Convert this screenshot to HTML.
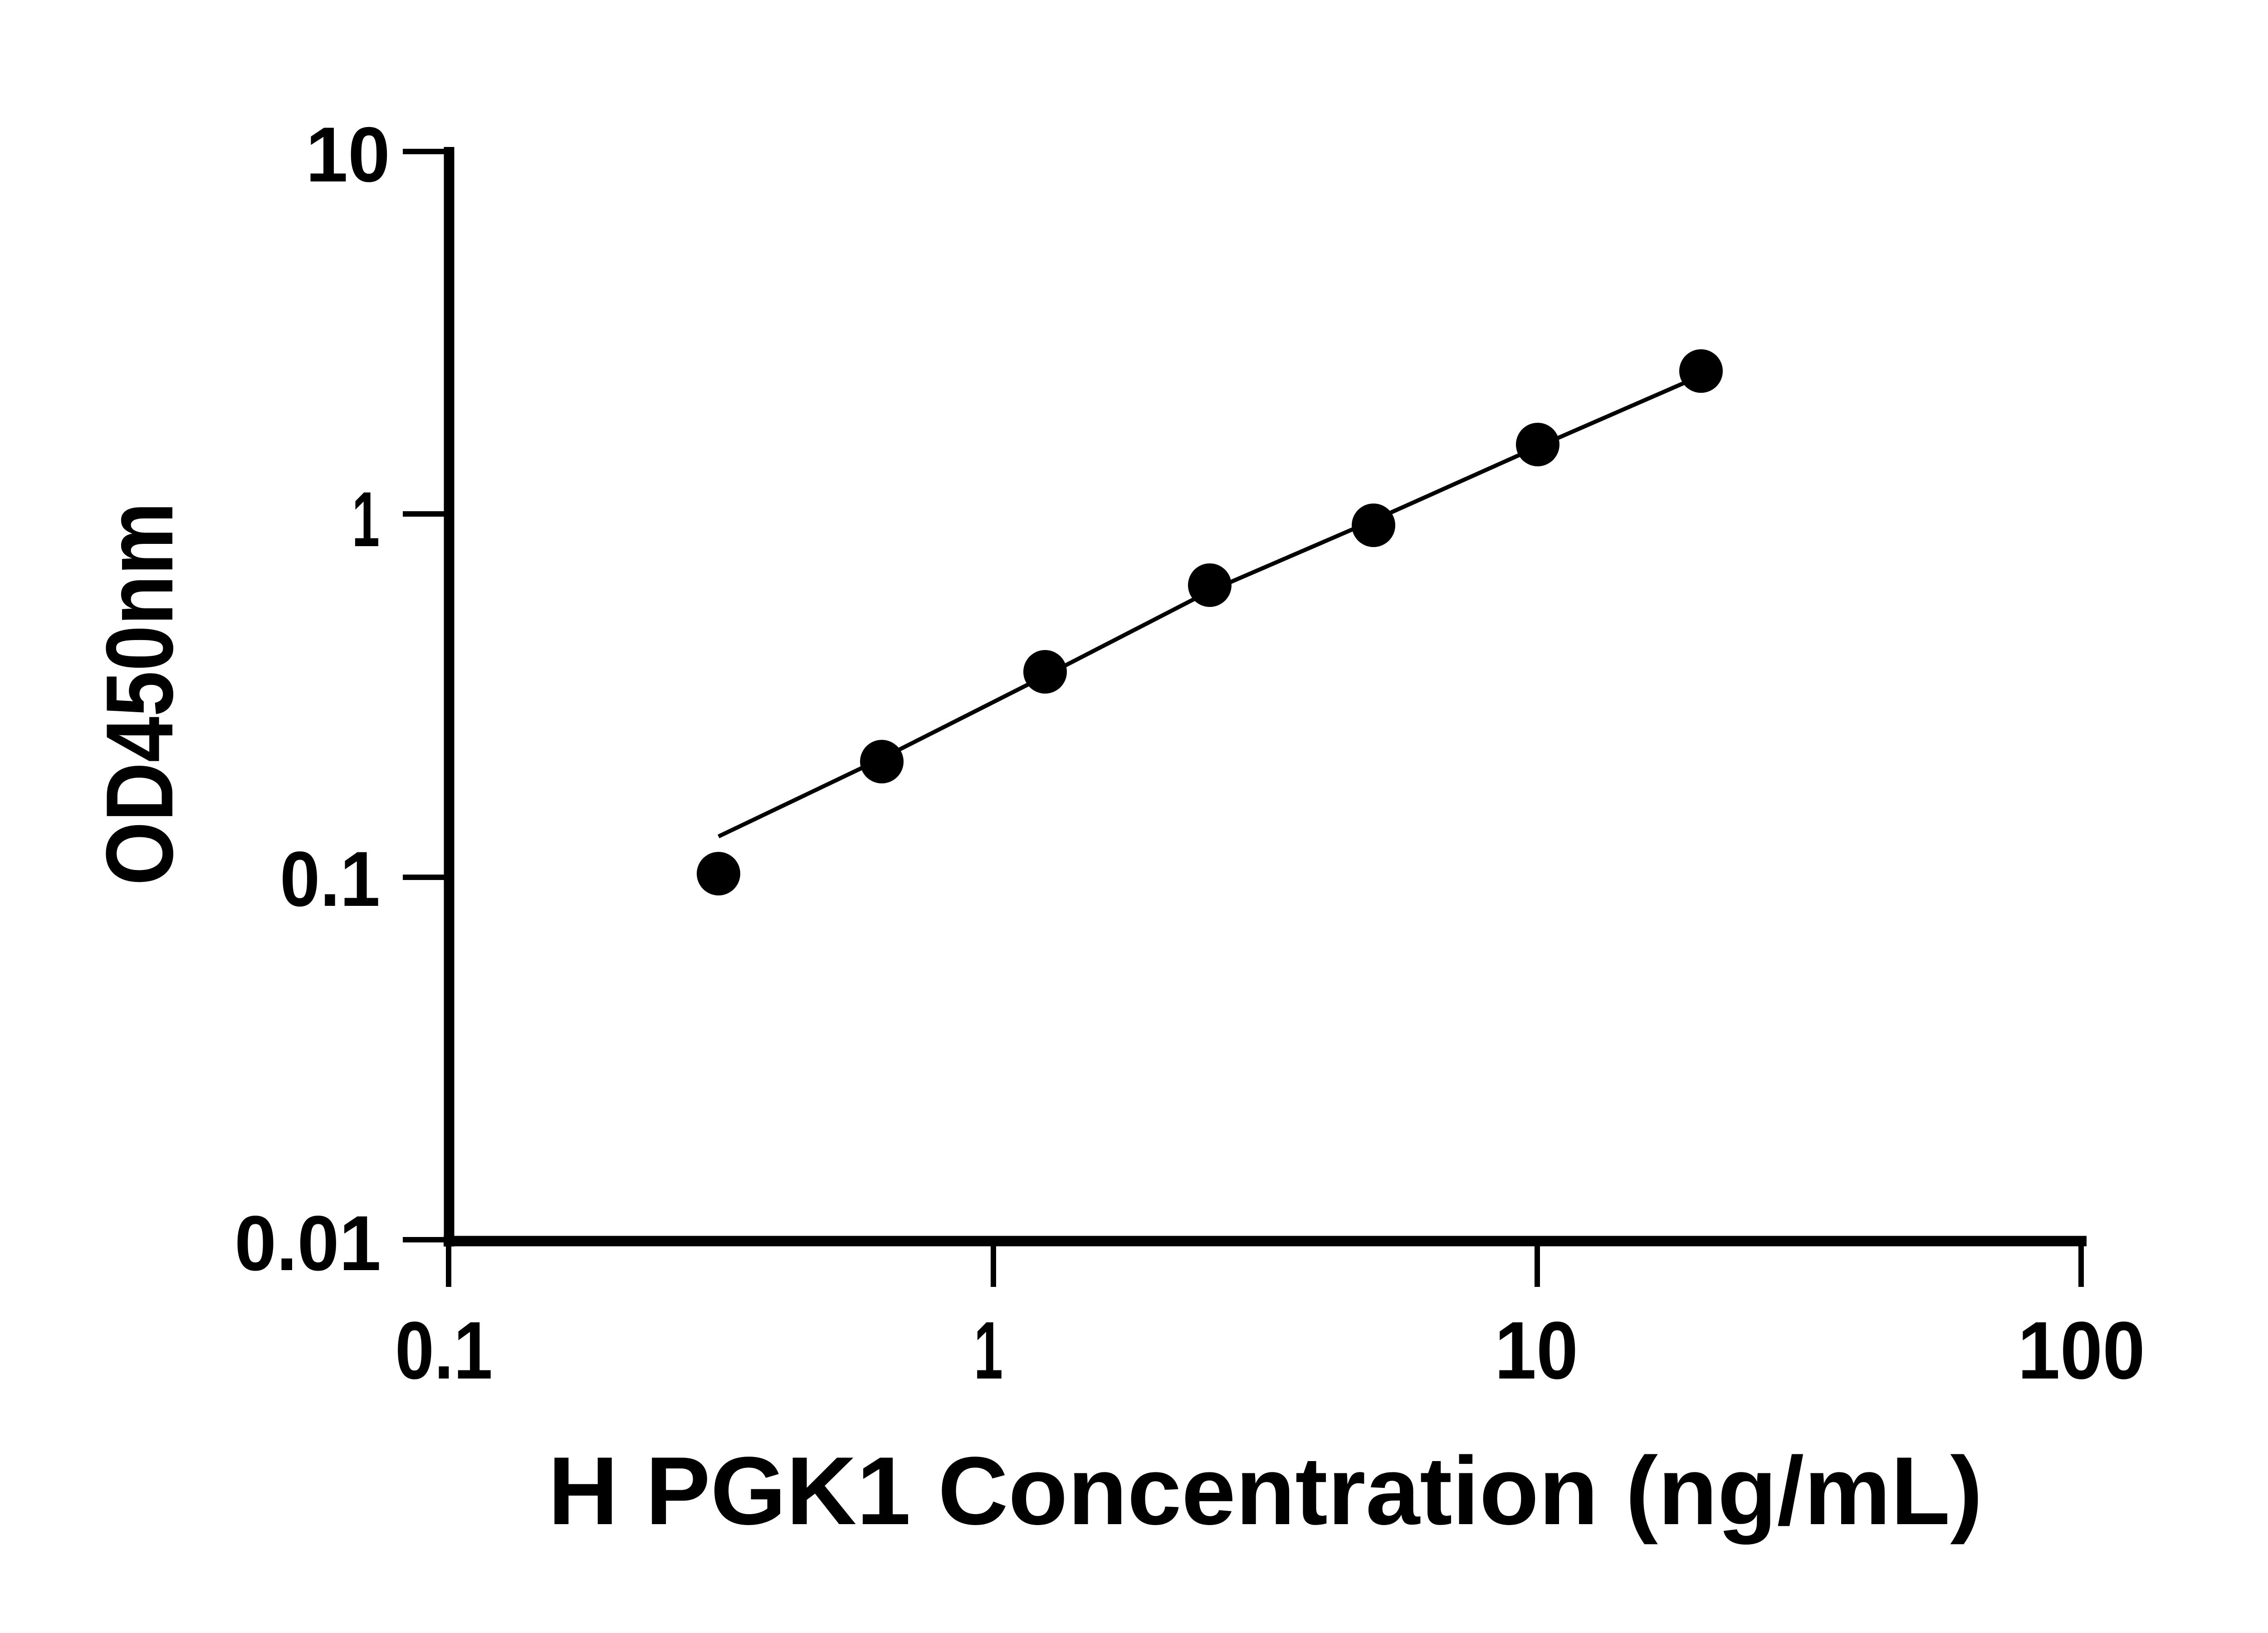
<!DOCTYPE html>
<html><head><style>html,body{margin:0;padding:0;background:#fff}svg{display:block}</style></head>
<body>
<svg width="5142" height="3600" viewBox="0 0 5142 3600" xmlns="http://www.w3.org/2000/svg" font-family="Liberation Sans, sans-serif" font-weight="bold" fill="#000">
<rect width="5142" height="3600" fill="#fff"/>
<!-- axes -->
<line x1="990" y1="324" x2="990" y2="2748" stroke="#000" stroke-width="23"/>
<line x1="978" y1="2736" x2="4600" y2="2736" stroke="#000" stroke-width="23"/>
<!-- y ticks -->
<g stroke="#000" stroke-width="12">
<line x1="888" y1="334" x2="990" y2="334"/>
<line x1="888" y1="1133" x2="990" y2="1133"/>
<line x1="888" y1="1934" x2="990" y2="1934"/>
<line x1="888" y1="2733" x2="990" y2="2733"/>
<line x1="989" y1="2736" x2="989" y2="2837"/>
<line x1="2190" y1="2736" x2="2190" y2="2837"/>
<line x1="3389" y1="2736" x2="3389" y2="2837"/>
<line x1="4588" y1="2736" x2="4588" y2="2837"/>
</g>
<!-- y tick labels -->
<g font-size="172">
<text x="674" y="400" textLength="186" lengthAdjust="spacingAndGlyphs">10</text>
<text x="776" y="1204" textLength="61" lengthAdjust="spacingAndGlyphs">1</text>
<text x="617" y="1997" textLength="221" lengthAdjust="spacingAndGlyphs">0.1</text>
<text x="517" y="2800" textLength="323" lengthAdjust="spacingAndGlyphs">0.01</text>
</g>
<!-- x tick labels -->
<g font-size="180">
<text x="871" y="3039" textLength="215" lengthAdjust="spacingAndGlyphs">0.1</text>
<text x="2147" y="3039" textLength="64" lengthAdjust="spacingAndGlyphs">1</text>
<text x="3295" y="3039" textLength="184" lengthAdjust="spacingAndGlyphs">10</text>
<text x="4448" y="3039" textLength="281" lengthAdjust="spacingAndGlyphs">100</text>
</g>
<!-- titles -->
<text x="1208" y="3360" font-size="213" textLength="3163" lengthAdjust="spacingAndGlyphs">H PGK1 Concentration (ng/mL)</text>
<text transform="translate(380,1952) rotate(-90)" x="0" y="0" font-size="210" textLength="845" lengthAdjust="spacingAndGlyphs">OD450nm</text>
<!-- fit line -->
<polyline points="1584,1844 1944,1672 2304,1490 2667,1303 3028,1147 3390,985 3750,828" fill="none" stroke="#000" stroke-width="9"/>
<!-- points -->
<g>
<circle cx="1584" cy="1926" r="48"/>
<circle cx="1944" cy="1679" r="48"/>
<circle cx="2304" cy="1481" r="48"/>
<circle cx="2667" cy="1290" r="48"/>
<circle cx="3028" cy="1158" r="48"/>
<circle cx="3390" cy="980" r="48"/>
<circle cx="3750" cy="818" r="48"/>
</g>
</svg>
</body></html>
